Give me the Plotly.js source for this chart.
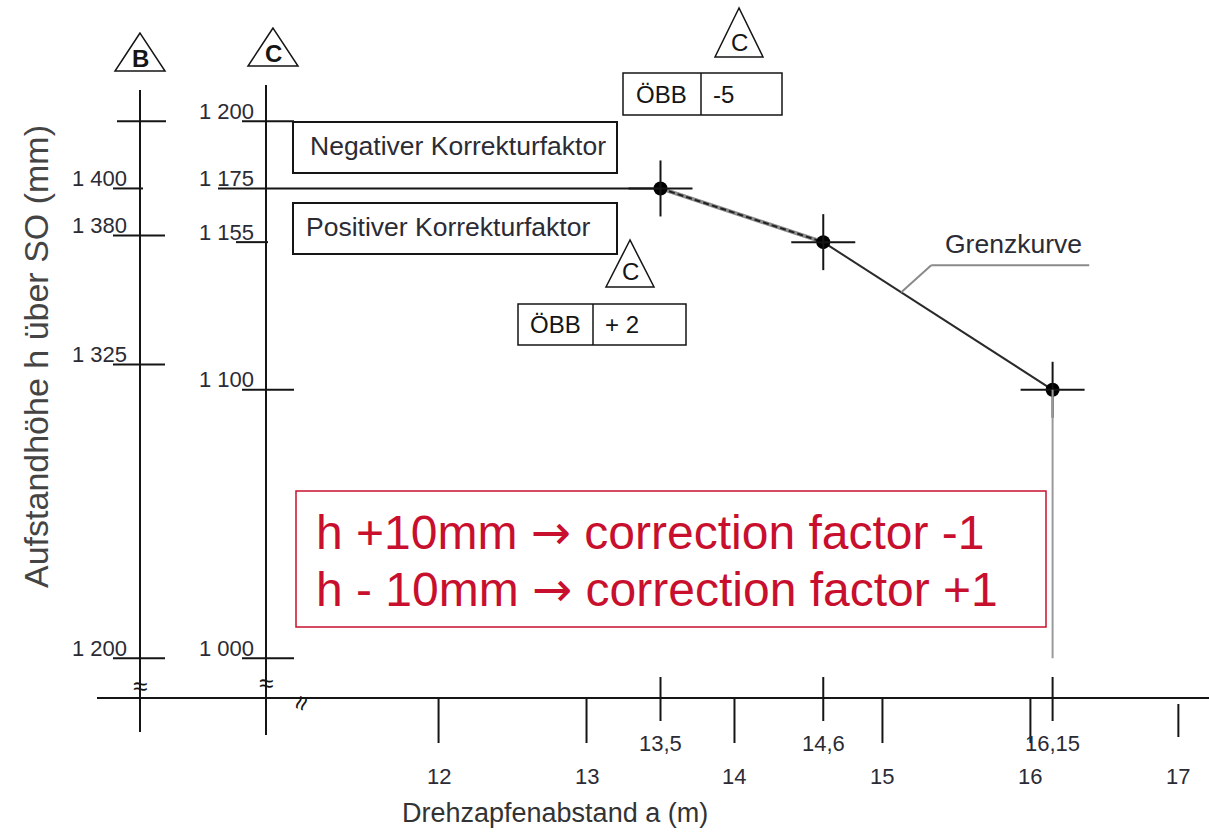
<!DOCTYPE html>
<html>
<head>
<meta charset="utf-8">
<script src="https://cdn.plot.ly/plotly-3.0.1.min.js"></script>
<style>html,body{margin:0;padding:0;background:#fff;}#chart{width:1209px;height:833px;}</style>
</head>
<body>
<div id="chart"></div>
<script>
// ---- data ----
const xTicks = [12, 13, 14, 15, 16, 17];
const xTickLabels = ['12', '13', '14', '15', '16', '17'];
const curveA = [13.5, 14.6, 16.15];            // Drehzapfenabstand a (m)
const curveALabels = ['13,5', '14,6', '16,15'];
const curveH = [1175, 1155, 1100];             // Aufstandhöhe h (mm), scale C
const cTicks = [1200, 1175, 1155, 1100, 1000];
const cTickLabels = ['1 200', '1 175', '1 155', '1 100', '1 000'];
const bTicks = [1400, 1380, 1325, 1200];
const bTickLabels = ['1 400', '1 380', '1 325', '1 200'];
const oebbLabels = ['ÖBB', 'ÖBB'];
const oebbFactors = ['-5', '+ 2'];
const boxTexts = ['Negativer Korrekturfaktor', 'Positiver Korrekturfaktor'];
const curveName = 'Grenzkurve';
const ARROW = '<span style="font-family:DejaVu Sans">\u2192</span>';
const noteLines = ['h +10mm ' + ARROW + ' correction factor -1', 'h - 10mm ' + ARROW + ' correction factor +1'];

// ---- layout helpers ----
const W = 1209, H = 833;
const xr = [9.036, 17.207];
const yr = [934.9, 1245.2];
// scale B relative to scale C: B 1400 <-> C 1175, B 1200 <-> C 1000
const bFromC = c => bTicks[0] + (c - cTicks[1]) * (bTicks[0] - bTicks[3]) / (cTicks[1] - cTicks[4]);
const y2r = [bFromC(yr[0]), bFromC(yr[1])];
const PX = p => p / W;
const PY = p => 1 - p / H;
const dX = v => (v - xr[0]) / (xr[1] - xr[0]);

const FONT = 'Liberation Sans, Arial, sans-serif';
const ink = '#151515';
const txt = '#2b2b35';
const red = '#c8102e';
const TICKSIZE = 22;

const shapes = [];
const ann = [];
const line = (o) => shapes.push(Object.assign({type: 'line', line: {color: ink, width: 2}}, o));

// horizontal axis
line({xref: 'paper', yref: 'paper', x0: PX(97), x1: 1, y0: PY(698), y1: PY(698)});
// vertical axes B and C
line({xref: 'paper', yref: 'paper', x0: PX(140), x1: PX(140), y0: PY(90), y1: PY(732)});
line({xref: 'paper', yref: 'paper', x0: PX(266), x1: PX(266), y0: PY(85), y1: PY(735)});

// B ticks
line({xref: 'paper', yref: 'y', x0: PX(117), x1: PX(166), y0: cTicks[0], y1: cTicks[0]});
bTicks.forEach((b, i) => {
  line({xref: 'paper', yref: 'y2', x0: PX(113), x1: PX(i === 0 ? 143 : 165), y0: b, y1: b});
  ann.push({xref: 'paper', yref: 'y2', x: PX(129), y: b, yshift: 10, xanchor: 'right', yanchor: 'middle',
    text: bTickLabels[i], showarrow: false, font: {family: FONT, size: TICKSIZE, color: txt}});
});
// C ticks
cTicks.forEach((c, i) => {
  if (i === 1) {
    line({xref: 'paper', yref: 'y', x0: PX(218), x1: dX(curveA[0]), y0: c, y1: c});
  } else if (i === 2) {
    line({xref: 'paper', yref: 'y', x0: PX(236), x1: PX(268), y0: c, y1: c});
  } else {
    line({xref: 'paper', yref: 'y', x0: PX(242), x1: PX(294), y0: c, y1: c});
  }
  ann.push({xref: 'paper', yref: 'y', x: PX(256), y: c, yshift: 10, xanchor: 'right', yanchor: 'middle',
    text: cTickLabels[i], showarrow: false, font: {family: FONT, size: TICKSIZE, color: txt}});
});

// x ticks
xTicks.forEach((v, i) => {
  const last = i === xTicks.length - 1;
  line({xref: 'x', yref: 'paper', x0: v, x1: v, y0: PY(last ? 704 : 698), y1: PY(last ? 737 : 743)});
  ann.push({xref: 'x', yref: 'paper', x: v, y: PY(776), xanchor: 'center', yanchor: 'middle',
    text: xTickLabels[i], showarrow: false, font: {family: FONT, size: TICKSIZE, color: txt}});
});
curveA.forEach((v, i) => {
  line({xref: 'x', yref: 'paper', x0: v, x1: v, y0: PY(677), y1: PY(721)});
  ann.push({xref: 'x', yref: 'paper', x: v, y: PY(743), xanchor: 'center', yanchor: 'middle',
    text: curveALabels[i], showarrow: false, font: {family: FONT, size: TICKSIZE, color: txt}});
});

// break marks
[[140, 686, 0], [266, 683, 0], [301, 703, -70]].forEach(b => {
  ann.push({xref: 'paper', yref: 'paper', x: PX(b[0]), y: PY(b[1]), text: '\u2248', showarrow: false,
    textangle: b[2], font: {family: FONT, size: 26, color: ink}, xanchor: 'center', yanchor: 'middle'});
});

// crosshairs at curve points
curveA.forEach((a, i) => {
  line({xref: 'x', yref: 'y', xsizemode: 'pixel', xanchor: a, x0: -32, x1: 32, y0: curveH[i], y1: curveH[i]});
  line({xref: 'x', yref: 'y', ysizemode: 'pixel', yanchor: curveH[i], y0: -28, y1: 28, x0: a, x1: a});
});
// grey drop line from last point to scale bottom
line({xref: 'x', yref: 'y', x0: curveA[2], x1: curveA[2], y0: curveH[2], y1: cTicks[4], line: {color: '#9a9a9a', width: 2}});

// Grenzkurve leader
const t = 0.34;
const la = curveA[1] + t * (curveA[2] - curveA[1]);
const lh = curveH[1] + t * (curveH[2] - curveH[1]);
line({xref: 'x', yref: 'y', xsizemode: 'pixel', ysizemode: 'pixel', xanchor: la, yanchor: lh, x0: 0, x1: 30, y0: 0, y1: 27, line: {color: '#8a8a8a', width: 2}});
line({xref: 'x', yref: 'y', xsizemode: 'pixel', ysizemode: 'pixel', xanchor: la, yanchor: lh, x0: 30, x1: 188, y0: 27, y1: 27, line: {color: '#8a8a8a', width: 2}});
ann.push({xref: 'x', yref: 'y', x: la, y: lh, showarrow: false, xshift: 112, yshift: 48,
  text: curveName, xanchor: 'center', yanchor: 'middle', font: {family: FONT, size: 26.5, color: txt}});

// correction factor boxes
const rect = (x0, y0, x1, y1, color, w) => shapes.push({type: 'rect', xref: 'paper', yref: 'paper',
  x0: PX(x0), x1: PX(x1), y0: PY(y0), y1: PY(y1), line: {color: color || ink, width: w || 2}, fillcolor: 'rgba(0,0,0,0)'});
rect(293, 122, 617, 173);
rect(293, 203, 617, 254);
ann.push({xref: 'paper', yref: 'paper', x: PX(308), y: PY(146), xanchor: 'left', yanchor: 'middle', text: boxTexts[0],
  showarrow: false, font: {family: FONT, size: 26.5, color: txt}});
ann.push({xref: 'paper', yref: 'paper', x: PX(304), y: PY(227), xanchor: 'left', yanchor: 'middle', text: boxTexts[1],
  showarrow: false, font: {family: FONT, size: 26.5, color: txt}});

// triangles
const tri = (cx, top, bot, half, letter, bold, ly) => {
  shapes.push({type: 'path', xref: 'paper', yref: 'paper', line: {color: ink, width: 1.5},
    path: `M ${PX(cx)} ${PY(top)} L ${PX(cx - half)} ${PY(bot)} L ${PX(cx + half)} ${PY(bot)} Z`});
  ann.push({xref: 'paper', yref: 'paper', x: PX(cx), y: PY(ly), text: bold ? '<b>' + letter + '</b>' : letter,
    showarrow: false, xanchor: 'center', yanchor: 'middle', font: {family: FONT, size: 24, color: ink}});
};
tri(140, 33, 71, 25, 'B', true, 58);
tri(273, 28, 66, 25, 'C', true, 53);
tri(739, 8, 57, 24, 'C', false, 42);
tri(630, 240, 287, 24, 'C', false, 271);

// ÖBB tables
const table = (x0, y0, x1, y1, xd, i) => {
  rect(x0, y0, x1, y1, ink, 1.5);
  line({xref: 'paper', yref: 'paper', x0: PX(xd), x1: PX(xd), y0: PY(y0), y1: PY(y1), line: {color: ink, width: 1.5}});
  ann.push({xref: 'paper', yref: 'paper', x: PX((x0 + xd) / 2), y: PY((y0 + y1) / 2), text: oebbLabels[i], showarrow: false,
    xanchor: 'center', yanchor: 'middle', font: {family: FONT, size: 24, color: ink}});
  ann.push({xref: 'paper', yref: 'paper', x: PX(xd + 10), y: PY((y0 + y1) / 2), text: oebbFactors[i], showarrow: false,
    xanchor: 'left', yanchor: 'middle', font: {family: FONT, size: 24, color: ink}});
};
table(623, 73, 782, 115, 701, 0);
table(518, 304, 686, 345, 593, 1);

// red note box
rect(296, 491, 1046, 627, red, 1.5);
ann.push({xref: 'paper', yref: 'paper', x: PX(314), y: PY(532), xanchor: 'left', yanchor: 'middle', text: noteLines[0],
  showarrow: false, font: {family: FONT, size: 48, color: red}});
ann.push({xref: 'paper', yref: 'paper', x: PX(314), y: PY(589), xanchor: 'left', yanchor: 'middle', text: noteLines[1],
  showarrow: false, font: {family: FONT, size: 48, color: red}});

// axis titles
ann.push({xref: 'paper', yref: 'paper', x: PX(36), y: PY(357), textangle: -90, xanchor: 'center', yanchor: 'middle',
  text: 'Aufstandhöhe h über SO (mm)', showarrow: false, font: {family: FONT, size: 34, color: '#444'}});
ann.push({xref: 'paper', yref: 'paper', x: PX(555), y: PY(813), xanchor: 'center', yanchor: 'middle',
  text: 'Drehzapfenabstand a (m)', showarrow: false, font: {family: FONT, size: 27, color: '#333'}});

// ---- traces ----
const traces = [
  {x: curveA.slice(0, 2), y: curveH.slice(0, 2), mode: 'lines', line: {color: '#8c8c8c', width: 4}, hoverinfo: 'skip'},
  {x: curveA.slice(0, 2), y: curveH.slice(0, 2), mode: 'lines', line: {color: '#222', width: 2, dash: '6px,3px'}, hoverinfo: 'skip'},
  {x: curveA.slice(1), y: curveH.slice(1), mode: 'lines', line: {color: '#2a2a2a', width: 2}, hoverinfo: 'skip'},
  {x: curveA, y: curveH, mode: 'markers', marker: {color: '#000', size: 14}, hoverinfo: 'skip'},
  {x: [null], y: [null], yaxis: 'y2', mode: 'markers', hoverinfo: 'skip'}
];

const layout = {
  width: W, height: H,
  margin: {l: 0, r: 0, t: 0, b: 0},
  paper_bgcolor: '#fff', plot_bgcolor: '#fff',
  showlegend: false,
  xaxis: {range: xr, visible: false, fixedrange: true},
  yaxis: {range: yr, visible: false, fixedrange: true},
  yaxis2: {range: y2r, visible: false, overlaying: 'y', fixedrange: true},
  shapes: shapes,
  annotations: ann
};
Plotly.newPlot('chart', traces, layout, {staticPlot: true, displayModeBar: false});
</script>
</body>
</html>
